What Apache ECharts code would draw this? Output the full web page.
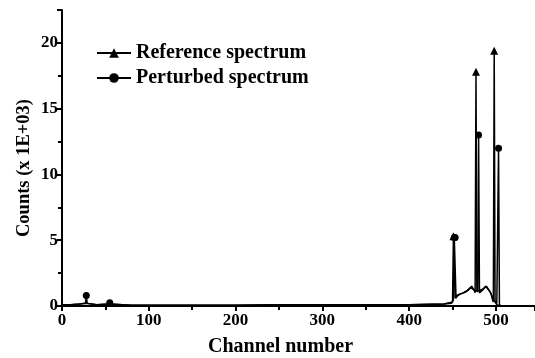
<!DOCTYPE html>
<html><head><meta charset="utf-8">
<script src="https://cdn.jsdelivr.net/npm/echarts@6/dist/echarts.min.js"></script>
<style>html,body{margin:0;padding:0;background:#fff}#c{width:535px;height:358px}</style>
</head><body><div id="c"></div>
<script>
// Reference spectrum (channel, counts x1E+03)
const refChannels = [0,10,20,28,40,55,80,100,150,200,250,300,350,400,440,449,450,451,452,453,455,458,462,465,468,471,473,475,476,477,478,479,482,485,487,489,491,493,495,496,497,498,499,501,505];
const refCounts   = [0.1,0.1,0.15,0.2,0.1,0.15,0.05,0.05,0.05,0.05,0.1,0.1,0.1,0.1,0.15,0.2,0.4,5.3,5.3,0.6,0.8,0.9,1.0,1.1,1.2,1.4,1.5,1.2,1.0,17.8,1.1,1.0,1.2,1.3,1.4,1.5,1.3,1.1,0.8,0.5,0.3,19.4,0.3,0.1,0.0];
const refMarkers  = [451,477,498];
// Perturbed spectrum
const perChannels = [0,10,20,27,28,29,40,54,55,56,80,100,150,200,250,300,350,400,440,450,451,452,453,454,456,459,463,466,469,472,474,476,478,479,480,481,483,486,488,490,492,494,496,498,500,501,502,503,504,506];
const perCounts   = [0.1,0.1,0.15,0.2,0.8,0.2,0.1,0.15,0.25,0.1,0.05,0.05,0.05,0.05,0.1,0.1,0.1,0.1,0.15,0.3,0.5,5.2,5.2,0.6,0.8,0.9,1.0,1.1,1.3,1.5,1.4,1.1,1.0,1.2,13.0,1.0,1.1,1.3,1.5,1.4,1.2,1.0,0.6,0.4,0.3,0.2,0.2,12.0,0.1,0.0];
const perMarkers  = [28,55,452,453,480,503];

const xTicks = {min:0, max:545, interval:100};
const yTicks = {min:0, max:22.5, interval:5};

function build(ch, v, marks){
  return ch.map((c,i)=>{
    const item = {value:[c, v[i]]};
    if (!marks.includes(c)) item.symbol = 'none';
    return item;
  });
}

const font = 'Liberation Serif';
const chart = echarts.init(document.getElementById('c'));
chart.setOption({
  animation:false,
  backgroundColor:'#fff',
  grid:{left:62, top:10, right:0, bottom:52, containLabel:false, outerBoundsMode:'none'},
  legend:{
    left:96, top:43, padding:0, orient:'vertical', itemGap:5, itemWidth:34, itemHeight:12,
    textStyle:{fontFamily:font, fontSize:20, lineHeight:20, color:'#000', fontWeight:'bold'},
    data:['Reference spectrum','Perturbed spectrum']
  },
  xAxis:{
    type:'value', min:xTicks.min, max:xTicks.max, interval:xTicks.interval,
    name:'Channel number', nameLocation:'middle', nameGap:31,
    nameTextStyle:{fontFamily:font, fontSize:20, color:'#000', fontWeight:'bold', padding:[0,36,0,0]},
    axisLine:{onZero:false, lineStyle:{color:'#000', width:2}},
    axisTick:{show:true, inside:false, length:5, lineStyle:{color:'#000', width:2}},
    minorTick:{show:true, splitNumber:2, length:4, lineStyle:{color:'#000', width:2}},
    axisLabel:{fontFamily:font, fontSize:17, color:'#000', fontWeight:'bold', margin:6,
      showMaxLabel:false},
    splitLine:{show:false}
  },
  yAxis:{
    type:'value', min:yTicks.min, max:yTicks.max, interval:yTicks.interval,
    name:'Counts (x 1E+03)', nameLocation:'middle', nameGap:28, nameMoveOverlap:false,
    nameTextStyle:{fontFamily:font, fontSize:18.5, color:'#000', fontWeight:'bold', padding:[0,20,0,0]},
    axisLine:{show:true, lineStyle:{color:'#000', width:2}},
    axisTick:{show:true, inside:false, length:5, lineStyle:{color:'#000', width:2}},
    minorTick:{show:true, splitNumber:2, length:4, lineStyle:{color:'#000', width:2}},
    axisLabel:{fontFamily:font, fontSize:17, color:'#000', fontWeight:'bold', margin:4,
      showMaxLabel:false},
    splitLine:{show:false}
  },
  series:[
    {name:'Reference spectrum', type:'line', symbol:'triangle', symbolSize:8,
     showAllSymbol:true, data:build(refChannels, refCounts, refMarkers),
     lineStyle:{color:'#000', width:1.5}, itemStyle:{color:'#000'}},
    {name:'Perturbed spectrum', type:'line', symbol:'circle', symbolSize:7,
     showAllSymbol:true, data:build(perChannels, perCounts, perMarkers),
     lineStyle:{color:'#000', width:1.5}, itemStyle:{color:'#000'}}
  ]
});
</script></body></html>
